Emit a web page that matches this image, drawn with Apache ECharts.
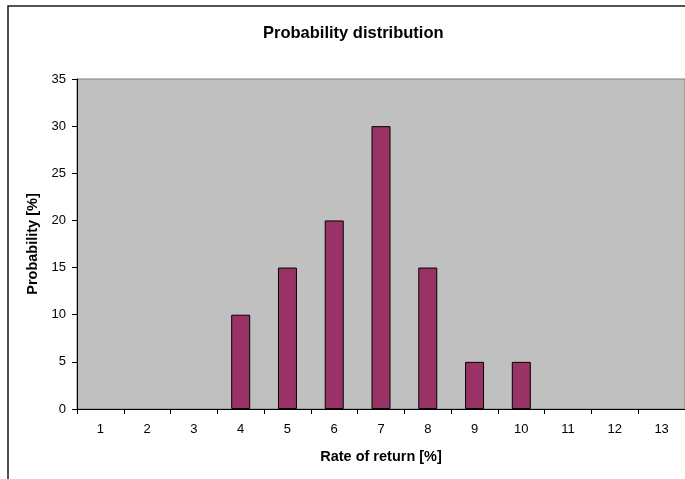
<!DOCTYPE html>
<html>
<head>
<meta charset="utf-8">
<script src="https://cdn.jsdelivr.net/npm/echarts@6/dist/echarts.min.js"></script>
<style>
  html, body { margin: 0; padding: 0; background: #ffffff; }
  #chart { width: 685px; height: 479px; }
</style>
</head>
<body>
<div id="chart"></div>
<script>
// Return rates (categories) and their probabilities in percent
const returnRates = ['1', '2', '3', '4', '5', '6', '7', '8', '9', '10', '11', '12', '13'];
const probabilities = [0, 0, 0, 10, 15, 20, 30, 15, 5, 5, 0, 0, 0];
const yTicks = { min: 0, max: 35, interval: 5 };

const chart = echarts.init(document.getElementById('chart'), null, { renderer: 'canvas' });

const font = 'Arial, "Liberation Sans", sans-serif';

// Zero-height bars get no outline so they do not leave a stroke on the axis
const barData = probabilities.map(v => ({
  value: v,
  itemStyle: v === 0 ? { borderWidth: 0 } : undefined
}));

chart.setOption({
  animation: false,
  backgroundColor: '#ffffff',
  title: {
    text: 'Probability distribution',
    left: 258,
    top: 20,
    textStyle: { fontFamily: font, fontSize: 16.5, fontWeight: 'bold', color: '#000' }
  },
  graphic: [{
    type: 'rect',
    shape: { x: 8, y: 6, width: 700, height: 500 },
    style: { fill: 'none', stroke: '#1a1a1a', lineWidth: 1.5 },
    silent: true
  }],
  grid: {
    left: 77, top: 79, width: 611, height: 330,
    show: true,
    backgroundColor: '#c0c0c0',
    borderColor: '#808080',
    borderWidth: 1
  },
  xAxis: {
    type: 'category',
    data: returnRates,
    boundaryGap: true,
    name: 'Rate of return [%]',
    nameLocation: 'middle',
    nameGap: 40,
    nameTextStyle: { fontFamily: font, fontSize: 14.5, fontWeight: 'bold', color: '#000' },
    axisLine: { show: true, lineStyle: { color: '#000', width: 1 } },
    axisTick: { show: true, alignWithLabel: false, length: 5, lineStyle: { color: '#000' } },
    axisLabel: { fontFamily: font, fontSize: 13, color: '#000', margin: 14 },
    splitLine: { show: false }
  },
  yAxis: {
    type: 'value',
    min: yTicks.min,
    max: yTicks.max,
    interval: yTicks.interval,
    name: 'Probability [%]',
    nameLocation: 'middle',
    nameGap: 35,
    nameRotate: 90,
    nameTextStyle: { fontFamily: font, fontSize: 14.5, fontWeight: 'bold', color: '#000' },
    axisLine: { show: true, lineStyle: { color: '#000', width: 1 } },
    axisTick: { show: true, length: 5, lineStyle: { color: '#000' } },
    axisLabel: { fontFamily: font, fontSize: 13, color: '#000', margin: 11 },
    splitLine: { show: false }
  },
  series: [{
    type: 'bar',
    data: barData,
    barWidth: 19,
    itemStyle: { color: '#993366', borderColor: '#000', borderWidth: 1 }
  }]
});
</script>
</body>
</html>
